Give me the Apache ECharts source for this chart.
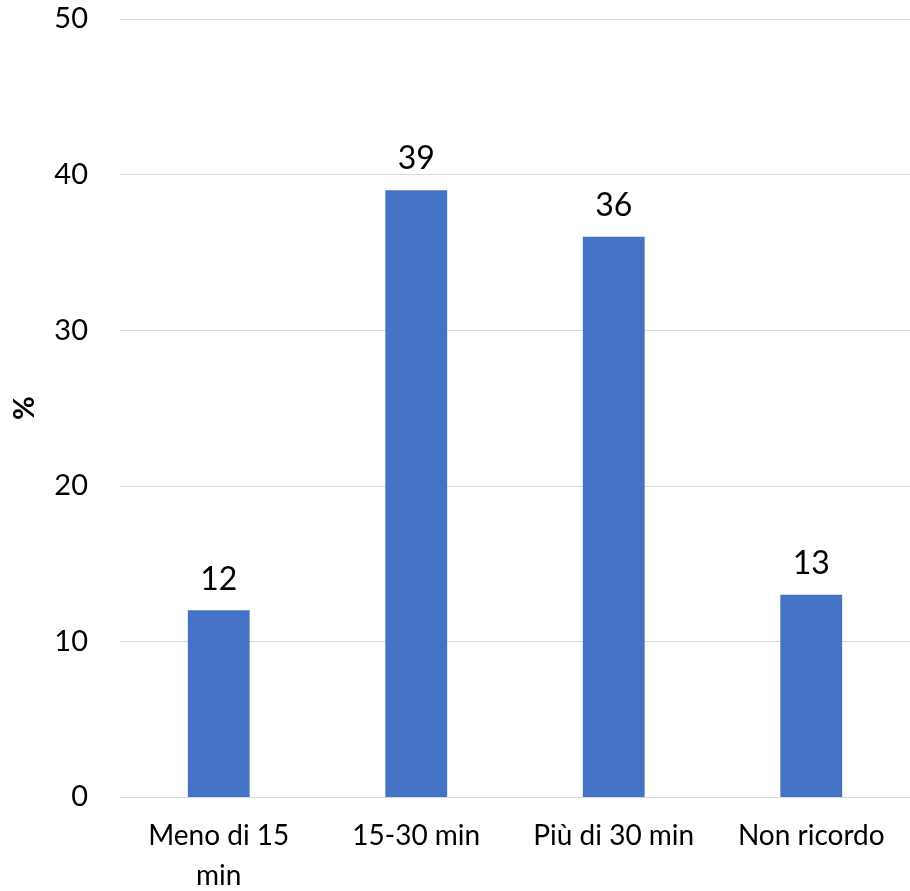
<!DOCTYPE html>
<html>
<head>
<meta charset="utf-8">
<script src="https://cdn.jsdelivr.net/npm/echarts@6/dist/echarts.min.js"></script>
<style>
html,body{margin:0;padding:0;background:#fff;}
#chart{width:910px;height:891px;}
</style>
</head>
<body>
<div id="chart"></div>
<script>
const categories = ["Meno di 15\nmin", "15-30 min", "Più di 30 min", "Non ricordo"];
const values = [12, 39, 36, 13];
const yTicks = [0, 10, 20, 30, 40, 50];

const chart = echarts.init(document.getElementById('chart'));
const font = 'Lato, "Open Sans", "Liberation Sans", sans-serif';
chart.setOption({
  animation: false,
  grid: {left: 120, right: 0, top: 19, bottom: 94, containLabel: false, outerBoundsMode: 'none'},
  xAxis: {
    type: 'category',
    data: categories,
    axisLine: {show: true, lineStyle: {color: '#D9D9D9', width: 1}},
    axisTick: {show: false},
    axisLabel: {color: '#000', fontSize: 28, fontFamily: font, margin: 19, lineHeight: 40, interval: 0}
  },
  yAxis: {
    type: 'value',
    min: yTicks[0],
    max: yTicks[yTicks.length - 1],
    interval: 10,
    name: '%',
    nameLocation: 'middle',
    nameGap: 81,
    nameTextStyle: {color: '#000', fontSize: 29, fontWeight: 'bold', fontFamily: font},
    axisLine: {show: false},
    axisTick: {show: false},
    splitLine: {lineStyle: {color: '#D9D9D9', width: 1}},
    axisLabel: {color: '#000', fontSize: 29, fontFamily: font, margin: 32}
  },
  series: [{
    type: 'bar',
    data: values,
    barWidth: '31.3%',
    itemStyle: {color: '#4472C4'},
    label: {show: true, position: 'top', distance: 15, color: '#000', fontSize: 32, fontFamily: font}
  }]
});
</script>
</body>
</html>
